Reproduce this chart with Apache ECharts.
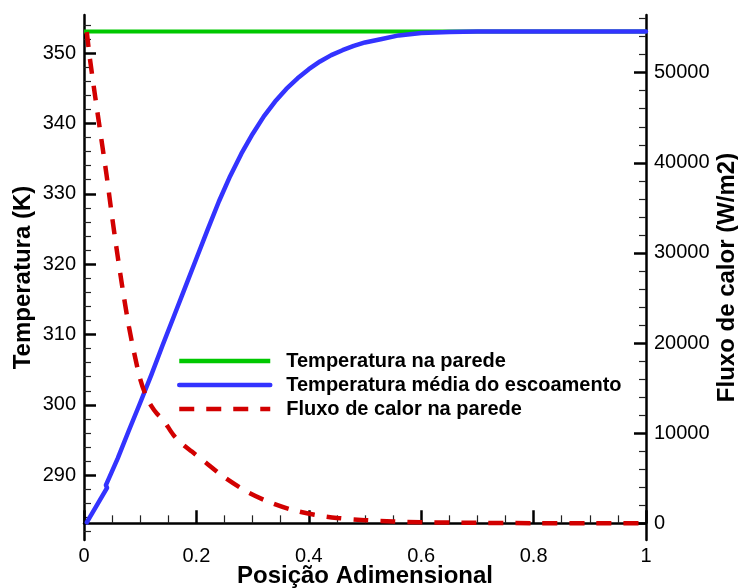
<!DOCTYPE html>
<html>
<head>
<meta charset="utf-8">
<title>Temperatura e fluxo de calor</title>
<style>
  html, body { margin: 0; padding: 0; background: #fff; }
  #chart { width: 738px; height: 588px; }
</style>
</head>
<body>
<div id="chart"></div>
<script src="https://cdn.jsdelivr.net/npm/echarts@6.0.0/dist/echarts.min.js"></script>
<script>
// temperatura na parede (K)
const paredeX = [0, 1];
const paredeT = [353.07, 353.07];

// temperatura média do escoamento (K)
const escoX = [0.005, 0.041, 0.039, 0.06, 0.08, 0.10, 0.12, 0.14, 0.16, 0.18, 0.20, 0.22, 0.24, 0.26, 0.28, 0.30,
  0.32, 0.34, 0.36, 0.38, 0.40, 0.42, 0.44, 0.46, 0.48, 0.50, 0.53, 0.56, 0.60, 0.65, 0.70, 1.0];
const escoT = [283.3, 288.2, 288.6, 292.4, 296.4, 300.3, 304.3, 308.5, 312.6, 316.7, 320.8, 324.9, 328.9, 332.5, 335.7, 338.5,
  341.0, 343.1, 344.9, 346.4, 347.7, 348.8, 349.7, 350.4, 351.0, 351.5, 352.0, 352.5, 352.85, 353.0, 353.07, 353.07];

// fluxo de calor na parede (W/m2)
const fluxoX = [0.005, 0.01, 0.02, 0.03, 0.04, 0.05, 0.06, 0.07, 0.08, 0.09, 0.10, 0.11, 0.12, 0.13, 0.141, 0.159,
  0.175, 0.192, 0.218, 0.248, 0.29, 0.33, 0.37, 0.41, 0.45, 0.50, 0.55, 0.60, 0.70, 0.80, 0.90, 1.0];
const fluxoQ = [54500, 51800, 47300, 43000, 38700, 34000, 29600, 25500, 21800, 18700, 16000, 14200, 13000, 12150, 11480, 9810,
  8800, 7960, 6670, 5180, 3510, 2350, 1500, 950, 600, 350, 200, 120, 50, 20, 5, 0];

const tempTicks = [290, 300, 310, 320, 330, 340, 350];
const tempMinor = [282, 284, 286, 288, 292, 294, 296, 298, 302, 304, 306, 308, 312, 314, 316, 318,
  322, 324, 326, 328, 332, 334, 336, 338, 342, 344, 346, 348, 352, 354];
const fluxoTicks = [0, 10000, 20000, 30000, 40000, 50000];
const fluxoMinor = [2000, 4000, 6000, 8000, 12000, 14000, 16000, 18000, 22000, 24000, 26000, 28000,
  32000, 34000, 36000, 38000, 42000, 44000, 46000, 48000, 52000, 54000, 56000];

const FONT = '"Liberation Sans", Arial, sans-serif';
const TMIN = 280.8, TMAX = 355.4, QMIN = -1850, QMAX = 56400;
const pairs = (xs, ys) => xs.map((x, i) => [x, ys[i]]);

const axisLine = { show: true, lineStyle: { color: '#000', width: 2.5 } };
const titleStyle = { fontFamily: FONT, fontSize: 24, fontWeight: 'bold', color: '#000' };

function majorAxis(pos, min, max, ticks, name, gap) {
  return {
    type: 'value', position: pos, min, max,
    name, nameLocation: 'middle', nameGap: gap, nameRotate: 90, nameMoveOverlap: false,
    nameTextStyle: titleStyle,
    axisLine,
    axisTick: { show: true, inside: true, length: 12, customValues: ticks, lineStyle: { color: '#000', width: 2.5 } },
    axisLabel: { customValues: ticks, margin: 8, fontFamily: FONT, fontSize: 20, color: '#000', formatter: v => String(v) },
    splitLine: { show: false }
  };
}

function minorAxis(pos, min, max, ticks) {
  return {
    type: 'value', position: pos, min, max,
    axisLine: { show: false },
    axisTick: { show: true, inside: true, length: 7, customValues: ticks, lineStyle: { color: '#222', width: 1.2 } },
    axisLabel: { show: false },
    splitLine: { show: false }
  };
}

const chart = echarts.init(document.getElementById('chart'), null, { renderer: 'canvas' });
chart.setOption({
  animation: false,
  backgroundColor: '#fff',
  grid: { left: 84, right: 92, top: 15, bottom: 48, outerBoundsMode: 'none', containLabel: false },
  legend: {
    orient: 'vertical', left: 177, top: 351, padding: 0, itemGap: 4,
    itemWidth: 91, itemHeight: 14,
    itemStyle: { opacity: 0 },
    lineStyle: { width: 4.5 },
    textStyle: { fontFamily: FONT, fontSize: 20, fontWeight: 'bold', color: '#000', lineHeight: 20, padding: [0, 0, 0, 11] },
    data: ['Temperatura na parede', 'Temperatura média do escoamento', 'Fluxo de calor na parede']
  },
  xAxis: {
    type: 'value', min: 0, max: 1, interval: 0.2,
    name: 'Posição Adimensional', nameLocation: 'middle', nameGap: 24, nameMoveOverlap: false,
    nameTextStyle: titleStyle,
    axisLine,
    axisTick: { show: true, inside: true, length: 13, lineStyle: { color: '#000', width: 2.5 } },
    minorTick: { show: true, splitNumber: 4, length: 8, lineStyle: { color: '#222', width: 1.2 } },
    axisLabel: { margin: 6, fontFamily: FONT, fontSize: 20, color: '#000', formatter: v => String(+v.toFixed(1)) },
    splitLine: { show: false }
  },
  yAxis: [
    majorAxis('left', TMIN, TMAX, tempTicks, 'Temperatura (K)', 49),
    majorAxis('right', QMIN, QMAX, fluxoTicks, 'Fluxo de calor (W/m2)', 69),
    minorAxis('left', TMIN, TMAX, tempMinor),
    minorAxis('right', QMIN, QMAX, fluxoMinor)
  ],
  series: [
    {
      name: 'Temperatura na parede', type: 'line', yAxisIndex: 0, symbol: 'none',
      data: pairs(paredeX, paredeT),
      lineStyle: { color: '#00c800', width: 4 }, itemStyle: { color: '#00c800' }
    },
    {
      name: 'Temperatura média do escoamento', type: 'line', yAxisIndex: 0, symbol: 'none', smooth: false,
      data: pairs(escoX, escoT),
      lineStyle: { color: '#3333ff', width: 4.5, join: 'round', cap: 'round' }, itemStyle: { color: '#3333ff' }
    },
    {
      name: 'Fluxo de calor na parede', type: 'line', yAxisIndex: 1, symbol: 'none', smooth: 0.3,
      data: pairs(fluxoX, fluxoQ),
      lineStyle: { color: '#d20000', width: 4.5, type: [15, 12] }, itemStyle: { color: '#d20000' }
    }
  ]
});
</script>
</body>
</html>
